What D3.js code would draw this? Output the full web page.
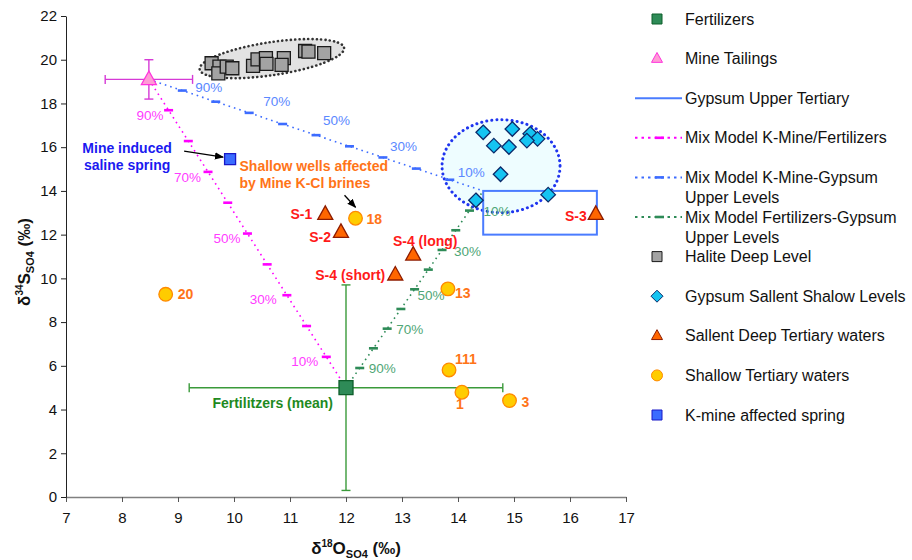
<!DOCTYPE html>
<html><head><meta charset="utf-8">
<script src="https://cdn.jsdelivr.net/npm/d3@7"></script>
<style>body{margin:0;background:#fff}</style>
</head><body><svg id="c" width="912" height="560"></svg>
<script>
// ---------- DATA ----------
const xTicks = [7, 8, 9, 10, 11, 12, 13, 14, 15, 16, 17];
const yTicks = [0, 2, 4, 6, 8, 10, 12, 14, 16, 18, 20, 22];

const fertilizers = [{x: 12.0, y: 5.0, ex: 2.8, ey: 4.7}];
const mineTailings = [{x: 8.48, y: 19.1, ex: 0.78, ey: 0.9}];
const kMineSpring = [{x: 9.93, y: 15.45}];
const gypsumUpperBox = [{x0: 14.45, x1: 16.48, y0: 12.0, y1: 14.0}];
const gypsumEnd = [{x: 14.45, y: 14.0}];

const haliteX = [9.60, 9.74, 9.72, 9.87, 9.97, 10.34, 10.42, 10.57, 10.58, 10.89, 10.85, 11.27, 11.33, 11.61];
const haliteY = [19.84, 19.68, 19.38, 19.68, 19.61, 19.72, 20.02, 20.07, 19.81, 20.07, 19.76, 20.40, 20.37, 20.30];

const gypsumX = [14.45, 14.97, 15.29, 15.42, 15.23, 14.64, 14.91, 14.76, 14.32, 15.61];
const gypsumY = [16.68, 16.83, 16.61, 16.38, 16.30, 16.07, 16.01, 14.76, 13.57, 13.83];

const sallentNames = ["S-1", "S-2", "S-4 (long)", "S-4 (short)", "S-3"];
const sallentX = [11.63, 11.91, 13.20, 12.88, 16.46];
const sallentY = [12.93, 12.11, 11.07, 10.16, 12.93];

const shallowNames = ["18", "20", "13", "111", "1", "3"];
const shallowX = [12.17, 8.78, 13.82, 13.84, 14.07, 14.92];
const shallowY = [12.75, 9.27, 9.52, 5.81, 4.79, 4.41];

const mixFractions = [0.1, 0.2, 0.3, 0.4, 0.5, 0.6, 0.7, 0.8, 0.9];
const mixLabelFractions = [0.9, 0.7, 0.5, 0.3, 0.1];

const legendNames = ["Fertilizers", "Mine Tailings", "Gypsum Upper Tertiary",
  "Mix Model K-Mine/Fertilizers", ["Mix Model K-Mine-Gypsum", "Upper Levels"],
  ["Mix Model Fertilizers-Gypsum", "Upper Levels"], "Halite Deep Level",
  "Gypsum Sallent Shalow Levels", "Sallent Deep Tertiary waters",
  "Shallow Tertiary waters", "K-mine affected spring"];

// ---------- CHART ----------
const FONT = 'Arial, "Liberation Sans", sans-serif';
const svg = d3.select('#c').attr('font-family', FONT);
const x = d3.scaleLinear().domain([7, 17]).range([66, 626]);
const y = d3.scaleLinear().domain([0, 22]).range([497, 16]);

const C = {
  pink: '#ff00ff', pinkTxt: '#ff3cff',
  blue: '#3d6cff', blueTxt: '#5b88ff',
  green: '#2e8b57', greenTxt: '#4fa676',
  boxBlue: '#4a7cff'
};

// axes
const gx = svg.append('g').attr('transform', `translate(0,${y(0)})`)
  .call(d3.axisBottom(x).tickValues(xTicks).tickSize(5).tickSizeOuter(0).tickFormat(d3.format('d')));
gx.select('.domain').attr('stroke', '#808080').attr('stroke-width', 1.6);
gx.selectAll('.tick line').attr('stroke', '#555');
gx.selectAll('.tick text').attr('font-size', 15).attr('font-family', FONT).attr('fill', '#111').attr('y', 15);

const gy = svg.append('g').attr('transform', `translate(${x(7)},0)`)
  .call(d3.axisLeft(y).tickValues(yTicks).tickSize(5).tickSizeOuter(0).tickFormat(d3.format('d')));
gy.select('.domain').attr('stroke', '#222');
gy.selectAll('.tick line').attr('stroke', '#222');
gy.selectAll('.tick text').attr('font-size', 15).attr('font-family', FONT).attr('fill', '#111').attr('x', -9);

// axis titles
const xt = svg.append('text').attr('x', 356).attr('y', 554).attr('text-anchor', 'middle')
  .attr('font-weight', 'bold').attr('font-size', 17).attr('fill', '#111');
xt.append('tspan').text('δ');
xt.append('tspan').attr('font-size', 10).attr('dy', -7).text('18');
xt.append('tspan').attr('dy', 7).text('O');
xt.append('tspan').attr('font-size', 11).attr('dy', 4).text('SO4');
xt.append('tspan').attr('dy', -4).text(' (‰)');

const yt = svg.append('text').attr('transform', 'translate(30,262) rotate(-90)').attr('text-anchor', 'middle')
  .attr('font-weight', 'bold').attr('font-size', 17).attr('fill', '#111');
yt.append('tspan').text('δ');
yt.append('tspan').attr('font-size', 10).attr('dy', -7).text('34');
yt.append('tspan').attr('dy', 7).text('S');
yt.append('tspan').attr('font-size', 11).attr('dy', 4).text('SO4');
yt.append('tspan').attr('dy', -4).text(' (‰)');

// ellipses (fields)
const hCx = (d3.min(haliteX) + d3.max(haliteX)) / 2, hCy = (d3.min(haliteY) + d3.max(haliteY)) / 2;
svg.append('ellipse')
  .attr('transform', `translate(${x(hCx) + 4},${y(hCy) - 3.5}) rotate(-8.5)`)
  .attr('rx', 73).attr('ry', 16.5)
  .attr('fill', '#e2e2e2').attr('stroke', '#333').attr('stroke-width', 2.6)
  .attr('stroke-dasharray', '0.1,4.2').attr('stroke-linecap', 'round');

const gCx = (d3.min(gypsumX) + d3.max(gypsumX)) / 2, gCy = (d3.min(gypsumY) + d3.max(gypsumY)) / 2;
svg.append('ellipse')
  .attr('cx', x(gCx) - 11).attr('cy', y(gCy) + 1.5)
  .attr('rx', 59).attr('ry', 46.5)
  .attr('fill', '#eefdff').attr('stroke', '#1f35ef').attr('stroke-width', 3)
  .attr('stroke-dasharray', '0.1,5').attr('stroke-linecap', 'round');

// gypsum upper tertiary box
svg.selectAll('rect.box').data(gypsumUpperBox).join('rect').attr('class', 'box')
  .attr('x', d => x(d.x0)).attr('y', d => y(d.y1))
  .attr('width', d => x(d.x1) - x(d.x0)).attr('height', d => y(d.y0) - y(d.y1))
  .attr('fill', 'none').attr('stroke', C.boxBlue).attr('stroke-width', 2);

// mixing lines
const T = mineTailings[0], F = fertilizers[0], G = gypsumEnd[0];
const mix = (a, b, f) => ({x: f * a.x + (1 - f) * b.x, y: f * a.y + (1 - f) * b.y});
// label offsets (pixels from the tick) for 90%,70%,50%,30%,10%
const mixDefs = [
  {a: T, b: F, col: C.pink, tcol: C.pinkTxt, anchor: 'end', off: [[-5, 10], [-7, 10], [-7, 9], [-10, 9], [-8, 9]]},
  {a: T, b: G, col: C.blue, tcol: C.blueTxt, anchor: 'start', off: [[13, 1], [14, -7], [7, -10], [7, -6], [8, -3]]},
  {a: F, b: G, col: C.green, tcol: C.greenTxt, anchor: 'start', off: [[9, 5], [9, 5], [3, 11], [12, 6], [14, 5]]}
];
mixDefs.forEach(m => {
  svg.append('line').attr('x1', x(m.a.x)).attr('y1', y(m.a.y)).attr('x2', x(m.b.x)).attr('y2', y(m.b.y))
    .attr('stroke', m.col).attr('stroke-width', 1.6).attr('stroke-dasharray', '1.6,4');
  svg.append('g').selectAll('line').data(mixFractions.map(f => mix(m.a, m.b, f))).join('line')
    .attr('x1', d => x(d.x) - 4.5).attr('x2', d => x(d.x) + 4.5)
    .attr('y1', d => y(d.y)).attr('y2', d => y(d.y))
    .attr('stroke', m.col).attr('stroke-width', 2.6);
  svg.append('g').selectAll('text').data(mixLabelFractions).join('text')
    .each(function (f, i) {
      const p = mix(m.a, m.b, f);
      d3.select(this).attr('x', x(p.x) + m.off[i][0]).attr('y', y(p.y) + m.off[i][1]).attr('text-anchor', m.anchor);
    })
    .attr('font-size', 13.5).attr('fill', m.tcol).text(f => Math.round(f * 100) + '%');
});

// error bars
function errorBars(d, col) {
  const g = svg.append('g').attr('stroke', col).attr('stroke-width', 1.4);
  g.append('line').attr('x1', x(d.x - d.ex)).attr('x2', x(d.x + d.ex)).attr('y1', y(d.y)).attr('y2', y(d.y));
  g.append('line').attr('x1', x(d.x)).attr('x2', x(d.x)).attr('y1', y(d.y - d.ey)).attr('y2', y(d.y + d.ey));
  [d.x - d.ex, d.x + d.ex].forEach(v => g.append('line').attr('x1', x(v)).attr('x2', x(v)).attr('y1', y(d.y) - 4.5).attr('y2', y(d.y) + 4.5));
  [d.y - d.ey, d.y + d.ey].forEach(v => g.append('line').attr('y1', y(v)).attr('y2', y(v)).attr('x1', x(d.x) - 4.5).attr('x2', x(d.x) + 4.5));
}
errorBars(F, '#3a9a3a');
errorBars(T, '#d63ad6');

// symbols
const sq = (s) => d3.symbol().type(d3.symbolSquare).size(s * s)();
const tri = (s) => { const h = s * 0.9; return `M0,${-h * 0.62}L${s / 2},${h * 0.38}L${-s / 2},${h * 0.38}Z`; };
const dia = (s) => `M0,${-s / 2}L${s / 2},0L0,${s / 2}L${-s / 2},0Z`;

// halite
svg.append('g').selectAll('path').data(haliteX.map((v, i) => ({x: v, y: haliteY[i]}))).join('path')
  .attr('transform', d => `translate(${x(d.x)},${y(d.y)})`).attr('d', sq(13))
  .attr('fill', '#a3a3a3').attr('stroke', '#1a1a1a').attr('stroke-width', 1.3);

// gypsum shallow
svg.append('g').selectAll('path').data(gypsumX.map((v, i) => ({x: v, y: gypsumY[i]}))).join('path')
  .attr('transform', d => `translate(${x(d.x)},${y(d.y)})`).attr('d', dia(14.5))
  .attr('fill', '#14c4f2').attr('stroke', '#0b2a6a').attr('stroke-width', 1.3);

// fertilizers
svg.append('g').selectAll('path').data(fertilizers).join('path')
  .attr('transform', d => `translate(${x(d.x)},${y(d.y)})`).attr('d', sq(14))
  .attr('fill', '#2e8b57').attr('stroke', '#0d5e2b').attr('stroke-width', 1.3);
// mine tailings
svg.append('g').selectAll('path').data(mineTailings).join('path')
  .attr('transform', d => `translate(${x(d.x)},${y(d.y)})`).attr('d', tri(15))
  .attr('fill', '#ff9bd5').attr('stroke', '#ff33dd').attr('stroke-width', 1.3);
// K-mine spring
svg.append('g').selectAll('path').data(kMineSpring).join('path')
  .attr('transform', d => `translate(${x(d.x)},${y(d.y)})`).attr('d', sq(11))
  .attr('fill', '#3a6cff').attr('stroke', '#1818c8').attr('stroke-width', 1.3);

// sallent deep
const sallent = sallentNames.map((n, i) => ({n, x: sallentX[i], y: sallentY[i]}));
svg.append('g').selectAll('path').data(sallent).join('path')
  .attr('transform', d => `translate(${x(d.x)},${y(d.y)})`).attr('d', tri(15))
  .attr('fill', '#ff6600').attr('stroke', '#8e1c00').attr('stroke-width', 1.3);
const sOff = {"S-1": [-13, 5, 'end'], "S-2": [-10, 10, 'end'], "S-4 (long)": [12, -9, 'middle'], "S-4 (short)": [-10, 5, 'end'], "S-3": [-9, 7, 'end']};
svg.append('g').selectAll('text').data(sallent).join('text')
  .attr('x', d => x(d.x) + sOff[d.n][0]).attr('y', d => y(d.y) + sOff[d.n][1]).attr('text-anchor', d => sOff[d.n][2])
  .attr('font-size', 14).attr('font-weight', 'bold').attr('fill', '#ff1a1a').text(d => d.n);

// shallow tertiary
const shallow = shallowNames.map((n, i) => ({n, x: shallowX[i], y: shallowY[i]}));
svg.append('g').selectAll('circle').data(shallow).join('circle')
  .attr('cx', d => x(d.x)).attr('cy', d => y(d.y)).attr('r', 6.8)
  .attr('fill', '#ffcc00').attr('stroke', '#ff8a00').attr('stroke-width', 1.3);
const cOff = {"18": [11, 6, 'start'], "20": [12, 5, 'start'], "13": [7, 9, 'start'], "111": [6, -6, 'start'], "1": [-2, 17, 'middle'], "3": [12, 6, 'start']};
svg.append('g').selectAll('text').data(shallow).join('text')
  .attr('x', d => x(d.x) + cOff[d.n][0]).attr('y', d => y(d.y) + cOff[d.n][1]).attr('text-anchor', d => cOff[d.n][2])
  .attr('font-size', 14).attr('font-weight', 'bold').attr('fill', '#ff7418').text(d => d.n);

// annotations
svg.append('defs').append('marker').attr('id', 'arr').attr('viewBox', '0 0 10 10').attr('refX', 9).attr('refY', 5)
  .attr('markerWidth', 7).attr('markerHeight', 7).attr('orient', 'auto')
  .append('path').attr('d', 'M0,1L10,5L0,9Z').attr('fill', '#000');
const ks = kMineSpring[0];
svg.append('line').attr('x1', x(ks.x) - 46).attr('y1', y(ks.y) - 8).attr('x2', x(ks.x) - 7).attr('y2', y(ks.y) - 2)
  .attr('stroke', '#000').attr('stroke-width', 1.3).attr('marker-end', 'url(#arr)');
svg.append('text').attr('x', x(ks.x) - 103).attr('y', y(ks.y) - 6).attr('text-anchor', 'middle')
  .attr('font-size', 14).attr('font-weight', 'bold').attr('fill', '#1a1af0')
  .selectAll('tspan').data(['Mine induced', 'saline spring']).join('tspan')
  .attr('x', x(ks.x) - 103).attr('dy', (d, i) => i ? 17 : 0).text(d => d);

const s18 = shallow[0];
svg.append('line').attr('x1', x(s18.x) - 11).attr('y1', y(s18.y) - 23).attr('x2', x(s18.x)).attr('y2', y(s18.y) - 11)
  .attr('stroke', '#000').attr('stroke-width', 1.3).attr('marker-end', 'url(#arr)');
svg.append('text').attr('font-size', 14).attr('font-weight', 'bold').attr('fill', '#ff7418')
  .selectAll('tspan').data(['Shallow wells affected', 'by Mine K-Cl brines']).join('tspan')
  .attr('x', x(s18.x) - 116).attr('y', (d, i) => y(s18.y) - 47 + i * 17).text(d => d);

svg.append('text').attr('x', x(F.x) - 13).attr('y', y(F.y) + 20).attr('text-anchor', 'end')
  .attr('font-size', 14).attr('font-weight', 'bold').attr('fill', '#1f8a1f').text('Fertilitzers (mean)');

// legend
const lg = svg.append('g');
const lx = 657, tx = 685;
legendNames.forEach((name, i) => {
  const ly = 19 + i * 39.6;
  const g = lg.append('g');
  const lines = Array.isArray(name) ? name : [name];
  g.append('text').attr('font-size', 16).attr('fill', '#111')
    .selectAll('tspan').data(lines).join('tspan').attr('x', tx).attr('y', (d, k) => ly + 5.5 + k * 20).text(d => d);
  const sym = g.append('g').attr('transform', `translate(${lx},${ly})`);
  if (i === 0) sym.append('path').attr('d', sq(10)).attr('fill', '#2e8b57').attr('stroke', '#0d5e2b');
  if (i === 1) sym.append('path').attr('d', tri(11)).attr('fill', '#ff9bd5').attr('stroke', '#ff33dd');
  if (i === 2) sym.append('line').attr('x1', -22).attr('x2', 25).attr('stroke', C.boxBlue).attr('stroke-width', 2);
  if (i >= 3 && i <= 5) {
    const col = [C.pink, C.blue, C.green][i - 3];
    sym.append('line').attr('x1', -22).attr('x2', 25).attr('stroke', col).attr('stroke-width', 2).attr('stroke-dasharray', '2.5,4');
    sym.append('line').attr('x1', -2).attr('x2', 7).attr('stroke', col).attr('stroke-width', 2.6);
  }
  if (i === 6) sym.append('path').attr('d', sq(10)).attr('fill', '#a3a3a3').attr('stroke', '#1a1a1a');
  if (i === 7) sym.append('path').attr('d', dia(12)).attr('fill', '#14c4f2').attr('stroke', '#0b2a6a');
  if (i === 8) sym.append('path').attr('d', tri(11)).attr('fill', '#ff6600').attr('stroke', '#8e1c00');
  if (i === 9) sym.append('circle').attr('r', 5.5).attr('fill', '#ffcc00').attr('stroke', '#ff8a00');
  if (i === 10) sym.append('path').attr('d', sq(10)).attr('fill', '#3a6cff').attr('stroke', '#1818c8');
});
</script></body></html>
